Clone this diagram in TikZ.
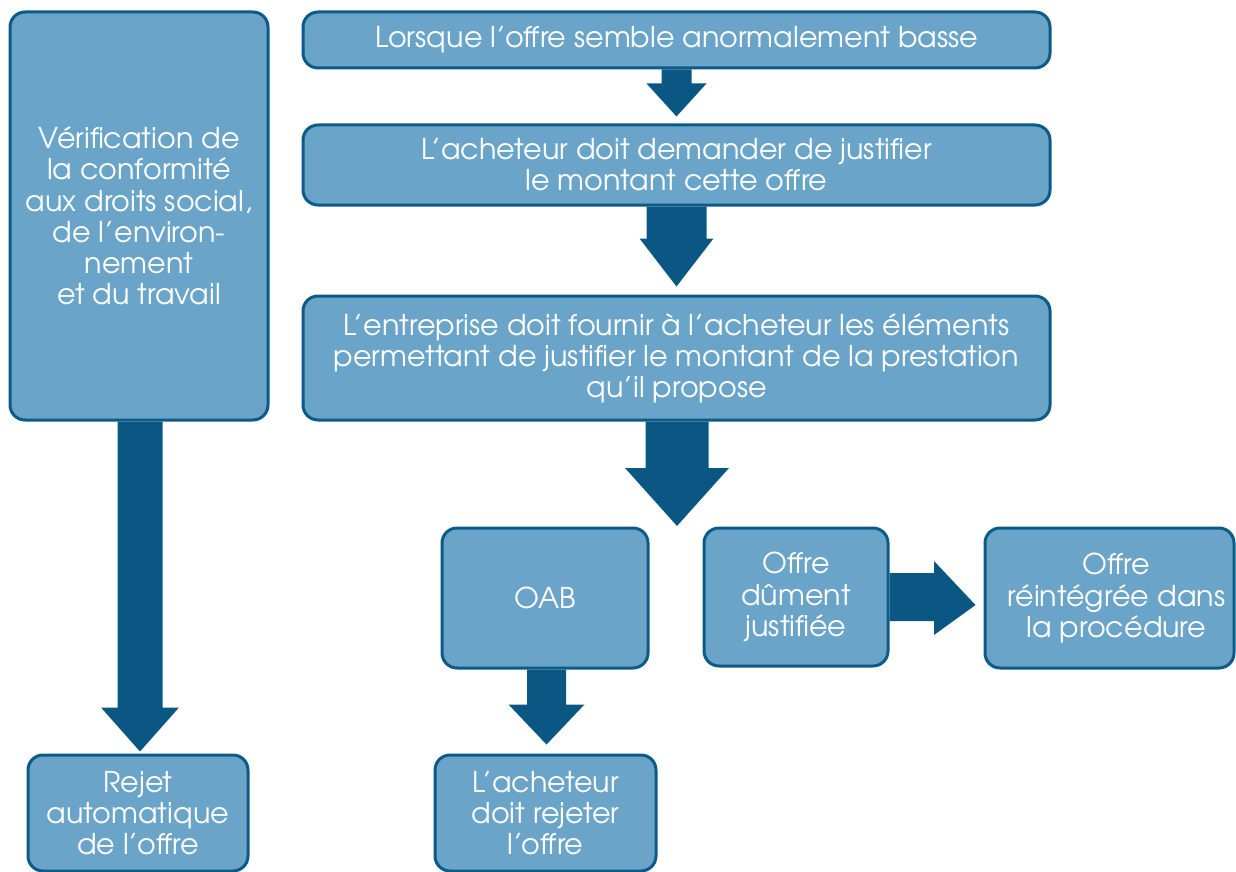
\documentclass[tikz,border=0pt]{standalone}
\usepackage{fontspec}
\setmainfont{TeX Gyre Adventor}
\usetikzlibrary{calc}
\definecolor{boxfill}{HTML}{6AA4C8}
\definecolor{boxline}{HTML}{0B5A87}
\definecolor{arrowc}{HTML}{0A5784}
\tikzset{
  flowbox/.style={draw=boxline, fill=boxfill, line width=1.5pt, rounded corners=7.5pt,
    text=white, align=center, inner sep=0pt, font=\fontsize{14.3}{15.6}\selectfont},
  blockarrow/.style={fill=arrowc, draw=none}
}
% #1 top point, #2 tip, #3 shaft half width, #4 head half width, #5 head length (px)
\newcommand{\downarrowblock}[5]{%
  \fill[blockarrow] let \p1=(#1), \p2=(#2) in
    (\x2-#3*0.5pt,\y1) -- (\x2-#3*0.5pt,\y2+#5*0.5pt) -- (\x2-#4*0.5pt,\y2+#5*0.5pt) --
    (\x2,\y2) -- (\x2+#4*0.5pt,\y2+#5*0.5pt) -- (\x2+#3*0.5pt,\y2+#5*0.5pt) -- (\x2+#3*0.5pt,\y1) -- cycle;}
\begin{document}
\begin{tikzpicture}[x=0.5pt,y=-0.5pt]
\useasboundingbox (0,0) rectangle (1236,872);
\node[flowbox, minimum width=129pt, minimum height=204pt] (verif) at (139,216)
  {Vérification de\\la conformité\\aux droits social,\\de l’environ-\\nement\\et du travail};
\node[flowbox, minimum width=373.5pt, minimum height=28pt] (lorsque) at (676.5,40)
  {Lorsque l’offre semble anormalement basse};
\node[flowbox, minimum width=373.5pt, minimum height=40pt] (demander) at (676.5,165)
  {L’acheteur doit demander de justifier\\le montant cette offre};
\node[flowbox, minimum width=373.5pt, minimum height=62pt] (fournir) at (676.5,358)
  {L’entreprise doit fournir à l’acheteur les éléments\\permettant de justifier le montant de la prestation\\qu’il propose};
\node[flowbox, minimum width=103pt, minimum height=70pt] (oab) at (545,598) {OAB};
\node[flowbox, minimum width=92pt, minimum height=69pt] (justifiee) at (796,597)
  {Offre\\dûment\\justifiée};
\node[flowbox, minimum width=124.5pt, minimum height=70pt] (reint) at (1109.5,598)
  {\hspace*{7pt}Offre\\\hspace*{7pt}réintégrée dans\\\hspace*{7pt}la procédure};
\node[flowbox, minimum width=110pt, minimum height=58pt] (rejet) at (138,813)
  {Rejet\\automatique\\de l’offre};
\node[flowbox, minimum width=110.5pt, minimum height=58pt] (rejeter) at (545.5,813)
  {L’acheteur\\doit rejeter\\l’offre};
% arrows
\coordinate (tip1) at ($(demander.north)+(0,-7)$);
\coordinate (tip2) at ($(fournir.north)+(0,-8)$);
\coordinate (tip3) at (677,526);
\coordinate (tip4) at ($(rejet.north)+(2,-2)$);
\coordinate (tip5) at ($(rejeter.north)+(1,-9)$);
\downarrowblock{lorsque.south}{tip1}{15}{30}{33}
\downarrowblock{demander.south}{tip2}{30}{37}{48}
\downarrowblock{fournir.south}{tip3}{31.5}{52}{58}
\downarrowblock{verif.south}{tip4}{22.5}{39}{44}
\downarrowblock{oab.south}{tip5}{19.5}{38}{40}
\fill[blockarrow] let \p1=(justifiee.east), \p2=(reint.west) in
  (\x1,573*-0.5pt) -- (934*0.5pt,573*-0.5pt) -- (934*0.5pt,561*-0.5pt) -- (\x2-8*0.5pt,605*-0.5pt)
  -- (934*0.5pt,635*-0.5pt) -- (934*0.5pt,621*-0.5pt) -- (\x1,621*-0.5pt) -- cycle;
\end{tikzpicture}
\end{document}
